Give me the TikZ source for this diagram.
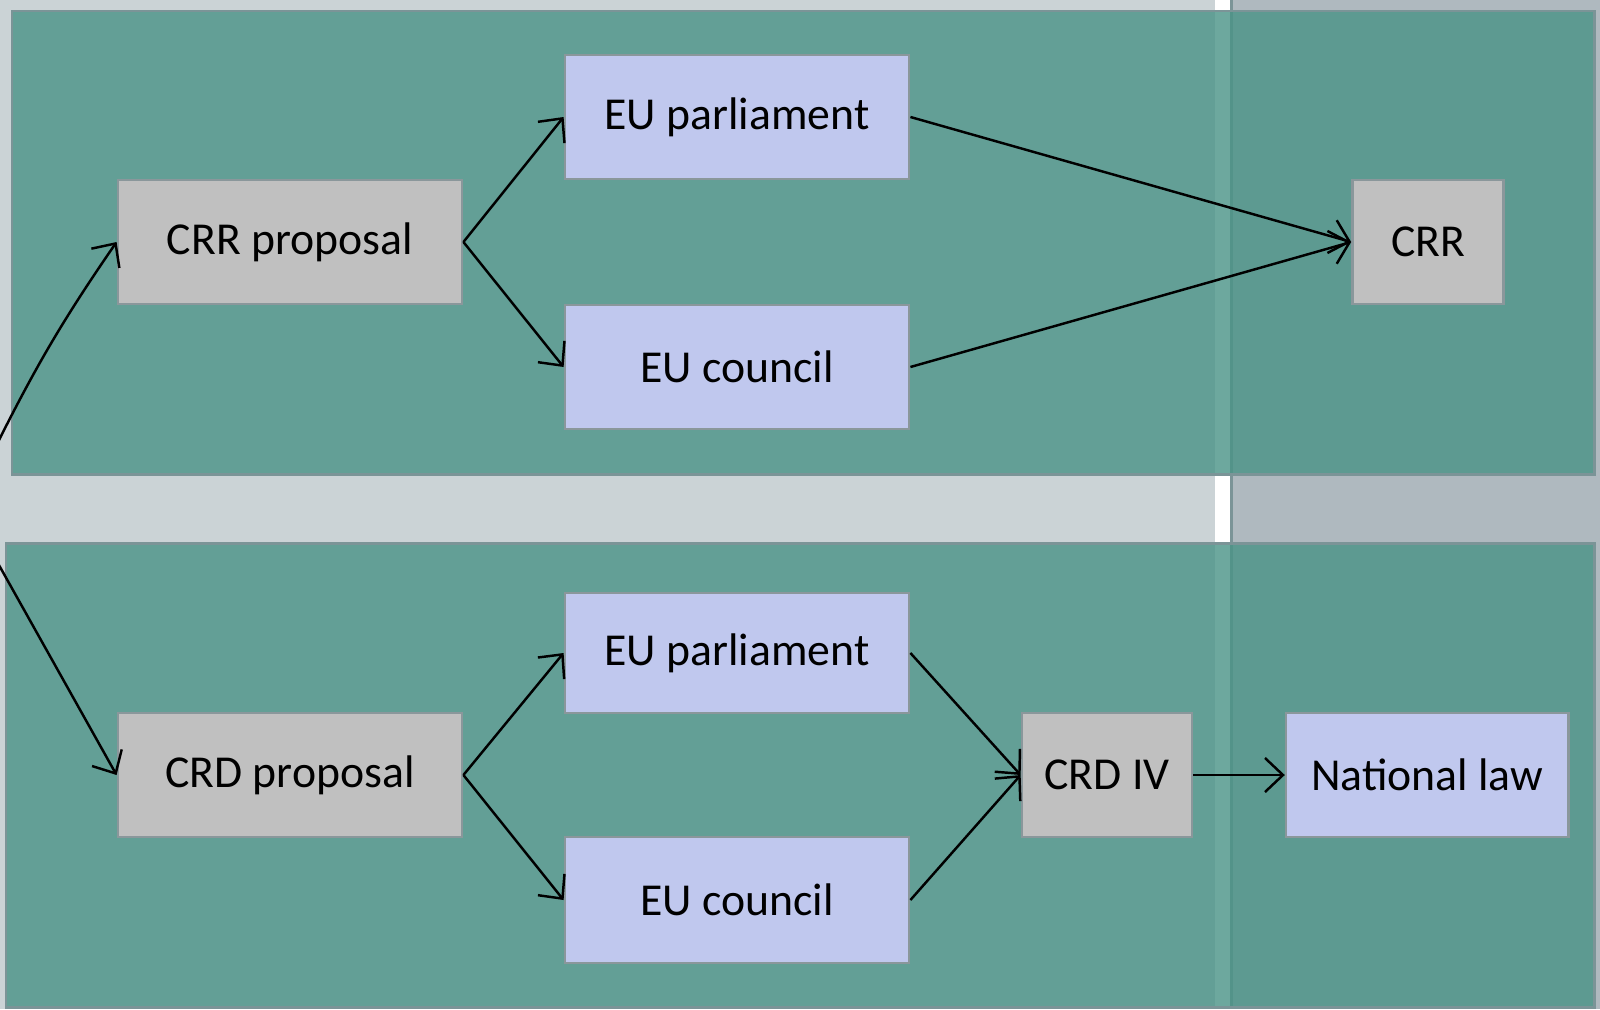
\documentclass[tikz,border=0pt]{standalone}
\usepackage{fontspec}
\setmainfont{Carlito}
\usetikzlibrary{arrows.meta}
\definecolor{lanebg}{HTML}{CBD3D6}
\definecolor{lanebgr}{HTML}{AFB9BF}
\definecolor{panelfill}{HTML}{499386}
\definecolor{paneledge}{HTML}{7B9497}
\definecolor{boxedge}{HTML}{8A979B}
\definecolor{greybox}{HTML}{C0C0C0}
\definecolor{bluebox}{HTML}{C0C8EE}
\tikzset{
    block/.style = {draw=boxedge, line width=0.75pt, rectangle, fill=greybox,
        minimum height=1.24cm, minimum width=3.44cm, inner sep=0pt,
        align=center, font=\fontsize{13}{15}\selectfont},
    instbox/.style = {block, fill=bluebox},
    panel/.style = {fill=panelfill, fill opacity=0.8, draw=paneledge, line width=0.85pt},
    arrow/.style = {draw, -{Straight Barb[length=1.8mm,width=3.4mm]}, line width=0.7pt}
}

\begin{document}
\begin{tikzpicture}[x=0.01cm, y=-0.01cm, node distance=3.2cm]
    % swimlane backgrounds
    \fill[lanebg] (0,0) rectangle (1215,1009);
    \fill[lanebgr] (1233,0) rectangle (1600,1009);
    \fill[white] (1215,0) rectangle (1230,1009);
    \fill[paneledge] (1230,0) rectangle (1233,1009);
    \useasboundingbox (0,0) rectangle (1600,1009);
    \draw[panel] (12,11) rectangle (1594,474);
    \draw[panel] (6,543) rectangle (1594,1007);

    % CRR
    \node [block] (crrprop) at (290,242) {CRR proposal};
    \node [instbox] (parl1) at (737,117) {EU parliament};
    \node [instbox] (coun1) at (737,367) {EU council};
    \node [block, minimum width=1.51cm] (crr) at (1428,242) {CRR};
    % CRD
    \node [block] (crdprop) at (290,775) {CRD proposal};
    \node [instbox, minimum height=1.2cm] (parl2) at (737,653) {EU parliament};
    \node [instbox, minimum height=1.26cm] (coun2) at (737,900) {EU council};
    \node [block, minimum width=1.70cm] (crd4) at (1107,775) {CRD IV};
    \node [instbox, right of=crd4, minimum width=2.82cm] (natlaw) {National law};

    \coordinate (in1) at (-5,448);
    \coordinate (in2) at (-5,558);

    \draw [arrow] (in1) to[bend left=4] (crrprop.west);
    \draw [arrow] (in2) -- (crdprop.west);
    \draw [arrow] (crrprop.east) -- (parl1.west);
    \draw [arrow] (crrprop.east) -- (coun1.west);
    \draw [arrow] (parl1.east) -- (crr.west);
    \draw [arrow] (coun1.east) -- (crr.west);
    \draw [arrow] (crdprop.east) -- (parl2.west);
    \draw [arrow] (crdprop.east) -- (coun2.west);
    \draw [arrow] (parl2.east) -- (crd4.west);
    \draw [arrow] (coun2.east) -- (crd4.west);
    \draw [arrow] (crd4) -- (natlaw);
\end{tikzpicture}
\end{document}
